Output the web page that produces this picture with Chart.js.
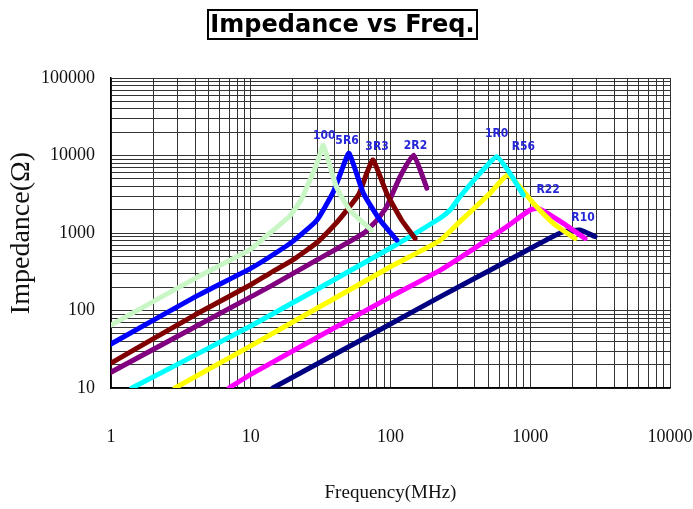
<!DOCTYPE html>
<html>
<head>
<meta charset="utf-8">
<script src="https://cdn.jsdelivr.net/npm/chart.js@4"></script>
<style>
  html, body { margin: 0; padding: 0; background: #fff; }
  #wrap { position: relative; width: 693px; height: 509px; }
  #c { position: absolute; left: 0; top: 0; }
  #title {
    position: absolute; left: 207px; top: 9px;
    width: 267px; height: 27px;
    border: 2px solid #000;
    font: bold 24px "DejaVu Sans", Verdana, sans-serif;
    line-height: 27px; text-align: center; color: #000;
    white-space: nowrap;
  }
</style>
</head>
<body>
<div id="wrap">
  <canvas id="c" width="693" height="509"></canvas>
  <div id="title">Impedance vs Freq.</div>
</div>
<script>
// ─────────────────────────────────────────────
//  Data   f in MHz, Z in ohm
// ─────────────────────────────────────────────
const X_TICKS = [1, 10, 100, 1000, 10000];
const Y_TICKS = [10, 100, 1000, 10000, 100000];

const SERIES = ["100", "5R6", "3R3", "2R2", "1R0", "R56", "R22", "R10"];

const F_100 = [1, 4, 10, 13.7, 19, 23, 26.5, 30.4, 33, 41, 51, 73];
const Z_100 = [65, 260, 620, 1000, 1650, 2700, 4800, 8750, 13500, 3950, 1980, 1090];

const F_5R6 = [1, 4, 10, 13.7, 20, 29.6, 39, 44.8, 50.5, 64, 84, 111];
const Z_5R6 = [37, 150, 350, 494, 780, 1450, 3400, 6500, 10700, 3250, 1470, 810];

const F_3R3 = [1, 4, 10, 13.7, 20, 30, 41, 59, 67.6, 75, 94, 120, 150];
const Z_3R3 = [21, 88, 215, 302, 449, 760, 1350, 3100, 5890, 8750, 3250, 1470, 850];

const F_2R2 = [1, 10, 13.7, 30, 64, 80, 94, 117, 146, 182];
const Z_2R2 = [16, 150, 203, 453, 990, 1470, 2190, 5320, 10100, 3780];

const F_1R0 = [1.41, 10, 100, 226, 267, 314, 437, 575, 716, 892];
const Z_1R0 = [10, 63, 640, 1550, 1980, 2940, 5890, 9660, 5890, 3090];

const F_R56 = [2.87, 10, 100, 226, 314, 515, 697, 1052, 1462, 2090];
const Z_R56 = [10, 35, 367, 800, 1400, 3250, 5600, 2420, 1333, 850];

const F_R22 = [7, 10, 100, 226, 391, 678, 996, 1140, 1725, 2466];
const Z_R22 = [10, 15, 150, 330, 620, 1205, 1980, 2080, 1333, 850];

const F_R10 = [14.4, 100, 226, 515, 1175, 1725, 2270, 2906];
const Z_R10 = [10, 67, 150, 330, 736, 1040, 1094, 900];

// ─────────────────────────────────────────────
//  Styling
// ─────────────────────────────────────────────
const COLORS = ["#c8f7c5", "#0000ff", "#800000", "#800080",
                "#00ffff", "#ffff00", "#ff00ff", "#000080"];
// label position relative to each curve's peak (px)
const LABEL_OFFSETS = [[1, -10], [-2, -12], [4, -13], [2, -9],
                       [0, -23], [15, -28], [10, -18], [3, -12]];

const FREQS = [F_100, F_5R6, F_3R3, F_2R2, F_1R0, F_R56, F_R22, F_R10];
const IMPS  = [Z_100, Z_5R6, Z_3R3, Z_2R2, Z_1R0, Z_R56, Z_R22, Z_R10];

const SERIF = '"Liberation Serif", "Times New Roman", serif';

// log grid: 1..9 per decade
function logGrid(lo, hi) {
  const out = [];
  for (let d = lo; d < hi; d *= 10)
    for (let m = 1; m < 10; m++) out.push({ value: m * d });
  out.push({ value: hi });
  return out;
}

const datasets = SERIES.map((name, i) => ({
  label: name,
  data: FREQS[i].map((f, k) => ({ x: f, y: IMPS[i][k] })),
  borderColor: COLORS[i],
  backgroundColor: COLORS[i],
  borderWidth: 5,
  pointRadius: 0,
  tension: 0.15,
  borderJoinStyle: "round",
  borderCapStyle: "round",
  clip: 0,
}));

// ── peak labels ──
const peakLabels = {
  id: "peakLabels",
  afterDatasetsDraw(chart) {
    const { ctx } = chart;
    ctx.save();
    ctx.font = 'bold 12px "Liberation Sans Narrow", "DejaVu Sans Condensed", "Arial Narrow", sans-serif';
    ctx.fillStyle = "#2626d9";
    ctx.textAlign = "center";
    ctx.textBaseline = "middle";
    chart.data.datasets.forEach((ds, i) => {
      const pts = chart.getDatasetMeta(i).data;
      let top = pts[0];
      pts.forEach((p) => { if (p.y < top.y) top = p; });
      const [dx, dy] = LABEL_OFFSETS[i];
      ctx.fillText(ds.label, top.x + dx, top.y + dy);
    });
    ctx.restore();
  },
};

new Chart(document.getElementById("c"), {
  type: "line",
  data: { datasets },
  plugins: [peakLabels],
  options: {
    responsive: false,
    devicePixelRatio: 1,
    animation: false,
    layout: { padding: { top: 78, right: 23, bottom: 0, left: 0 } },
    plugins: { legend: { display: false }, tooltip: { enabled: false } },
    scales: {
      x: {
        type: "logarithmic",
        min: 1,
        max: 10000,
        afterBuildTicks: (s) => { s.ticks = logGrid(1, 10000); },
        afterFit: (s) => { s.height = 121; s.paddingLeft = 0; s.paddingRight = 0; },
        grid: { color: "#333", lineWidth: 1, drawTicks: false },
        border: { display: true, color: "#000", width: 1.5 },
        ticks: {
          autoSkip: false,
          maxRotation: 0,
          padding: 38,
          color: "#111",
          font: { family: SERIF, size: 18 },
          callback: (v) => (X_TICKS.includes(v) ? String(v) : ""),
        },
        title: {
          display: true,
          text: "Frequency(MHz)",
          color: "#111",
          font: { family: SERIF, size: 19 },
          padding: { top: 0, bottom: 5 },
        },
      },
      y: {
        type: "logarithmic",
        min: 10,
        max: 100000,
        afterBuildTicks: (s) => { s.ticks = logGrid(10, 100000); },
        afterFit: (s) => { s.width = 111; s.paddingTop = 0; s.paddingBottom = 0; },
        grid: { color: "#333", lineWidth: 1, drawTicks: false },
        border: { display: true, color: "#000", width: 1.5 },
        ticks: {
          autoSkip: false,
          padding: 16,
          color: "#111",
          font: { family: SERIF, size: 18 },
          callback: (v) => (Y_TICKS.includes(v) ? String(v) : ""),
        },
        title: {
          display: true,
          text: "Impedance(Ω)",
          color: "#111",
          font: { family: SERIF, size: 28 },
          padding: { top: 5, bottom: 0 },
        },
      },
    },
  },
});
</script>
</body>
</html>
